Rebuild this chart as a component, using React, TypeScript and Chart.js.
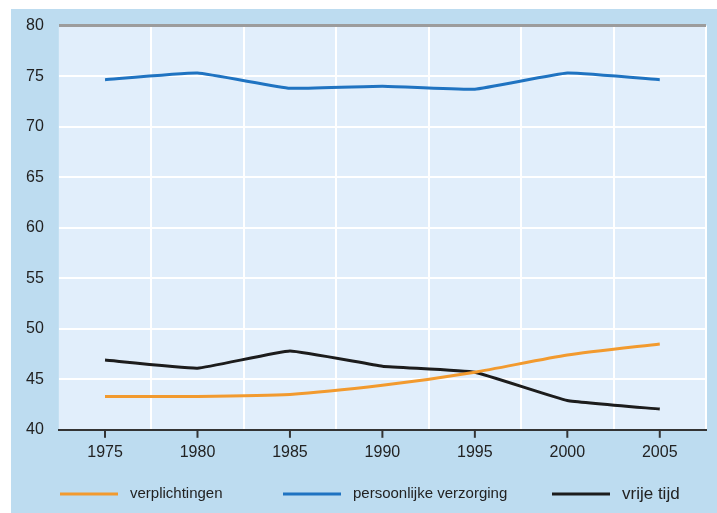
import React, { useEffect, useRef } from "react";
import { Chart, registerables } from "chart.js";

Chart.register(...registerables);

const years = ["1975", "1980", "1985", "1990", "1995", "2000", "2005"];
const verplichtingen = [43.3, 43.3, 43.5, 44.4, 45.7, 47.4, 48.5];
const persoonlijkeVerzorging = [74.65, 75.3, 73.8, 74.0, 73.7, 75.3, 74.65];
const vrijeTijd = [46.9, 46.1, 47.8, 46.3, 45.7, 42.9, 42.05];
const seriesNames = ["verplichtingen", "persoonlijke verzorging", "vrije tijd"];
const seriesColors = ["#f29a2e", "#1f73c1", "#1c1c1c"];
const yMin = 40;
const yMax = 80;
const yStep = 5;

const FONT = "'Liberation Sans', Arial, sans-serif";

const bgPlugin = {
  id: "plotBg",
  beforeDraw(chart: any) {
    const { ctx, chartArea } = chart;
    if (!chartArea) return;
    ctx.save();
    ctx.fillStyle = "#e1eefb";
    ctx.fillRect(chartArea.left, chartArea.top, chartArea.right - chartArea.left, chartArea.bottom - chartArea.top);
    ctx.restore();
  },
};

const tickPlugin = {
  id: "centerTicks",
  afterDraw(chart: any) {
    const { ctx, chartArea } = chart;
    const xs = chart.scales.x;
    ctx.save();
    ctx.strokeStyle = "#333333";
    ctx.lineWidth = 2;
    for (let i = 0; i < chart.data.labels.length; i++) {
      const x = xs.getPixelForValue(i);
      ctx.beginPath();
      ctx.moveTo(x, chartArea.bottom);
      ctx.lineTo(x, chartArea.bottom + 8);
      ctx.stroke();
    }
    ctx.restore();
  },
};

const legendX = [49, 272, 541];
const legendFontSizes = [15, 15, 17];
const legendPlugin = {
  id: "customLegend",
  afterDraw(chart: any) {
    const { ctx } = chart;
    const y = 493;
    ctx.save();
    chart.data.datasets.forEach((ds: any, i: number) => {
      const x0 = legendX[i];
      ctx.strokeStyle = ds.borderColor;
      ctx.lineWidth = 3;
      ctx.beginPath();
      ctx.moveTo(x0, y);
      ctx.lineTo(x0 + 58, y);
      ctx.stroke();
      ctx.fillStyle = "#222222";
      ctx.font = `${legendFontSizes[i]}px ${FONT}`;
      ctx.textBaseline = "middle";
      ctx.textAlign = "left";
      ctx.fillText(ds.label, x0 + 70, y);
    });
    ctx.restore();
  },
};

export default function App() {
  const ref = useRef<HTMLCanvasElement>(null);
  useEffect(() => {
    if (!ref.current) return;
    const chart = new Chart(ref.current, {
      type: "line",
      data: {
        labels: years,
        datasets: [
          { label: seriesNames[0], data: verplichtingen, borderColor: seriesColors[0], backgroundColor: seriesColors[0], tension: 0.2 },
          { label: seriesNames[1], data: persoonlijkeVerzorging, borderColor: seriesColors[1], backgroundColor: seriesColors[1], tension: 0.1 },
          { label: seriesNames[2], data: vrijeTijd, borderColor: seriesColors[2], backgroundColor: seriesColors[2], tension: 0.1 },
        ],
      },
      options: {
        responsive: false,
        animation: false,
        layout: { padding: { left: 0, right: 11, top: 0, bottom: 38 } },
        elements: { point: { radius: 0 }, line: { borderWidth: 3, fill: false } },
        plugins: { legend: { display: false }, tooltip: { enabled: false } },
        scales: {
          x: {
            offset: true,
            grid: {
              offset: true,
              drawTicks: false,
              color: (c: any) => (c.index === 0 || c.index >= years.length ? "rgba(0,0,0,0)" : "#ffffff"),
              lineWidth: 2,
            },
            border: { display: true, color: "#333333", width: 2 },
            ticks: { padding: 13, color: "#222222", font: { family: FONT, size: 16 } },
          },
          y: {
            min: yMin,
            max: yMax,
            grid: {
              drawTicks: false,
              color: (c: any) => (c.tick.value === yMax ? "#9c9c9c" : c.tick.value === yMin ? "rgba(0,0,0,0)" : "#ffffff"),
              lineWidth: (c: any) => (c.tick.value === yMax ? 3 : 2),
            },
            border: { display: false },
            ticks: { stepSize: yStep, padding: 15, color: "#222222", font: { family: FONT, size: 16 } },
          },
        },
      },
      plugins: [bgPlugin, tickPlugin, legendPlugin],
    });
    return () => chart.destroy();
  }, []);
  return (
    <div style={{ position: "fixed", left: 0, top: 0, width: 717, height: 513, background: "#ffffff", overflow: "hidden" }}>
      <div style={{ position: "absolute", left: 11, top: 9, width: 706, height: 504, background: "#bddcf0" }} />
      <canvas ref={ref} width={706} height={512} style={{ display: "block", position: "absolute", left: 11, top: 1 }} />
    </div>
  );
}
